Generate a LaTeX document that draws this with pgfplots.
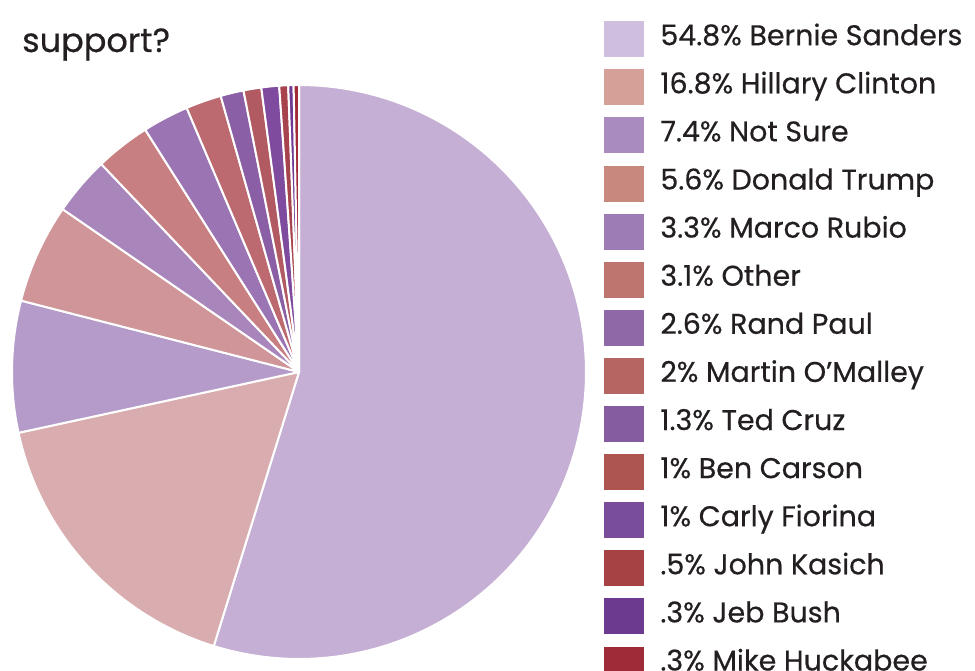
\documentclass[border=0pt]{standalone}
\usepackage{pgfplots}
\pgfplotsset{compat=1.18}
\usepackage{pgfplotstable}
\usepackage{fontspec}
\setmainfont{Poppins}[FakeBold=0.5]
\definecolor{textc}{HTML}{231F20}
% pie colours
\definecolor{c0}{HTML}{C5AFD4}
\definecolor{c1}{HTML}{D9ADAF}
\definecolor{c2}{HTML}{B59BC9}
\definecolor{c3}{HTML}{CF9598}
\definecolor{c4}{HTML}{A886BC}
\definecolor{c5}{HTML}{C87F82}
\definecolor{c6}{HTML}{9B74B4}
\definecolor{c7}{HTML}{BC6970}
\definecolor{c8}{HTML}{8A5FA5}
\definecolor{c9}{HTML}{B15A61}
\definecolor{c10}{HTML}{7E4B9E}
\definecolor{c11}{HTML}{A7434C}
\definecolor{c12}{HTML}{6E3A93}
\definecolor{c13}{HTML}{A02A35}
% legend colours
\definecolor{l0}{HTML}{CFBEDD}
\definecolor{l1}{HTML}{D4A098}
\definecolor{l2}{HTML}{A98BC0}
\definecolor{l3}{HTML}{C9887E}
\definecolor{l4}{HTML}{9D7BB5}
\definecolor{l5}{HTML}{BE7570}
\definecolor{l6}{HTML}{8F68A8}
\definecolor{l7}{HTML}{B66662}
\definecolor{l8}{HTML}{855CA0}
\definecolor{l9}{HTML}{AD5550}
\definecolor{l10}{HTML}{7A4D9A}
\definecolor{l11}{HTML}{A44244}
\definecolor{l12}{HTML}{6C3A8E}
\definecolor{l13}{HTML}{9E2B37}

\pgfplotstableread{
pct
54.8
16.8
7.4
5.6
3.3
3.1
2.6
2
1.3
1
1
0.5
0.3
0.3
}\piedata

\begin{document}
\begin{tikzpicture}
\useasboundingbox (0pt,0pt) rectangle (975pt,670pt);
\clip (0pt,0pt) rectangle (975pt,670pt);
\node[anchor=base west, font=\fontsize{33.5}{40}\selectfont, text=textc, inner sep=0pt] at (22pt,618pt) {support?};
\begin{axis}[
  at={(299pt,298pt)}, anchor=center,
  width=574pt, height=574pt, scale only axis,
  xmin=-1, xmax=1, ymin=-1, ymax=1,
  hide axis, clip=false,
  legend style={at={(1.0314,1.1115)}, anchor=north west, draw=none, fill=none,
    inner sep=0pt, row sep=12.1pt, font=\fontsize{28.5}{32}\selectfont, text=textc,
    nodes={inner sep=0pt, text height=12pt, text depth=0pt}, cells={anchor=west}},
  legend cell align=left,
  legend image code/.code={\path[#1, draw=none] (0pt,-18pt) rectangle (40pt,18pt); \path (56pt,0pt);},
]
\gdef\startang{0}
\pgfplotsforeachungrouped \i in {0,...,13}{%
  \pgfplotstablegetelem{\i}{pct}\of\piedata
  \pgfmathsetmacro\endang{\startang+3.6*\pgfplotsretval}%
  \pgfmathtruncatemacro\samp{max(4,(\endang-\startang)/1.5+3)}%
  \edef\doslice{\noexpand\addplot[forget plot, fill=c\i, draw=white, line width=2pt, line join=round,
     domain=\startang:\endang, samples=\samp, variable=\noexpand\t]
     ({sin(\noexpand\t)},{cos(\noexpand\t)}) -- (axis cs:0,0) -- cycle;}%
  \doslice
  \global\let\startang\endang
}
\addlegendimage{fill=l0}\addlegendentry{54.8\% Bernie Sanders}
\addlegendimage{fill=l1}\addlegendentry{16.8\% Hillary Clinton}
\addlegendimage{fill=l2}\addlegendentry{7.4\% Not Sure}
\addlegendimage{fill=l3}\addlegendentry{5.6\% Donald Trump}
\addlegendimage{fill=l4}\addlegendentry{3.3\% Marco Rubio}
\addlegendimage{fill=l5}\addlegendentry{3.1\% Other}
\addlegendimage{fill=l6}\addlegendentry{2.6\% Rand Paul}
\addlegendimage{fill=l7}\addlegendentry{2\% Martin O’Malley}
\addlegendimage{fill=l8}\addlegendentry{1.3\% Ted Cruz}
\addlegendimage{fill=l9}\addlegendentry{1\% Ben Carson}
\addlegendimage{fill=l10}\addlegendentry{1\% Carly Fiorina}
\addlegendimage{fill=l11}\addlegendentry{.5\% John Kasich}
\addlegendimage{fill=l12}\addlegendentry{.3\% Jeb Bush}
\addlegendimage{fill=l13}\addlegendentry{.3\% Mike Huckabee}
\end{axis}
\end{tikzpicture}
\end{document}
